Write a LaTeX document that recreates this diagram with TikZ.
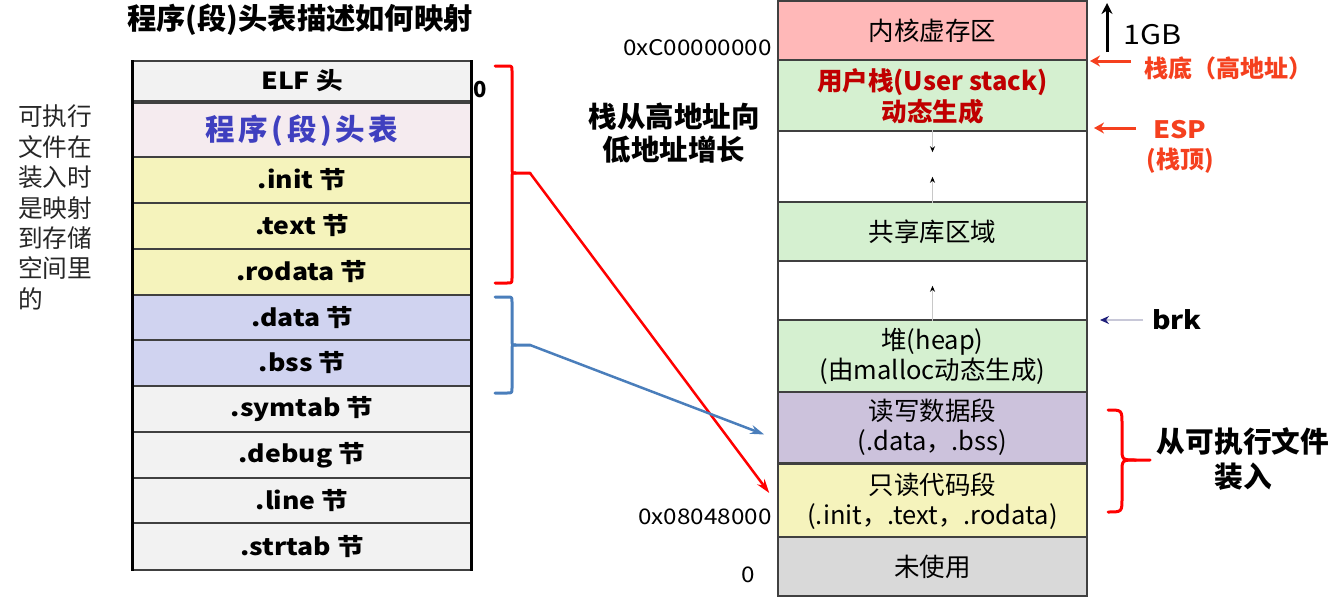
\documentclass[tikz,border=0pt]{standalone}
\usepackage{fontspec}
\setmainfont{Noto Sans CJK SC}
\newfontfamily\widefont{Noto Sans CJK SC}[FakeStretch=1.13]
\newfontfamily\spacedfont{Noto Sans CJK SC}[LetterSpace=12]
\usetikzlibrary{arrows.meta,calc}
\definecolor{elfgray}{HTML}{F2F2F2}
\definecolor{phtpink}{HTML}{F5EBEF}
\definecolor{secyellow}{HTML}{F5F3BC}
\definecolor{secblue}{HTML}{D0D3F0}
\definecolor{kernpink}{HTML}{FFB8B8}
\definecolor{memgreen}{HTML}{D5F0D0}
\definecolor{rwpurple}{HTML}{CCC2DC}
\definecolor{unusedgray}{HTML}{D9D9D9}
\definecolor{rowline}{HTML}{404040}
\definecolor{phtblue}{HTML}{3F3FBF}
\definecolor{stackred}{HTML}{C00000}
\definecolor{orangered}{HTML}{F5401E}
\definecolor{bracered}{HTML}{FF0000}
\definecolor{braceblue}{HTML}{4A7EBB}
\definecolor{smallline}{HTML}{C8C8C8}
\definecolor{brkline}{HTML}{C8C8D8}
\definecolor{brktip}{HTML}{1F1F7A}
\newcommand{\fsz}[1]{\fontsize{#1}{#1}\selectfont}
\begin{document}
\begin{tikzpicture}[x=1pt,y=-1pt,
  lcell/.style={draw=rowline, line width=1.2pt, minimum width=338pt, inner sep=0pt, font=\widefont\bfseries\fsz{23.5}},
  rcell/.style={draw=rowline, line width=1.5pt, minimum width=309pt, inner sep=0pt, align=center, font=\fontsize{25.5}{30}\selectfont},
  plain/.style={inner sep=0pt},
  smallarrow/.style={draw=smallline, line width=1pt, -{Stealth[length=6pt,width=5pt,color=black]}},
  orarrow/.style={draw=orangered, line width=3pt, -{Stealth[length=10pt,width=11pt]}},
  brace/.style={line width=3pt, line cap=round, line join=round},
  maparrow/.style={line width=2.5pt, -{Stealth[length=14pt,width=9pt]}}
]
\useasboundingbox (0,0) rectangle (1335,600);

% ---------------- left table ----------------
\node[plain, font=\bfseries\fsz{29.3}] (title) at (300,20) {程序(段)头表描述如何映射};

\node[lcell, fill=elfgray, minimum height=40pt] (elf) at (302,81) {ELF 头};
\node[lcell, fill=phtpink, minimum height=56pt, text=phtblue, font=\spacedfont\bfseries\fsz{29.5}] (pht) at (302,131) {程序(段)头表};
\node[lcell, fill=secyellow, minimum height=46pt] (init) at (302,180) {.init 节};
\node[lcell, fill=secyellow, minimum height=46pt] (text) at (302,226) {.text 节};
\node[lcell, fill=secyellow, minimum height=46pt] (rodata) at (302,272) {.rodata 节};
\node[lcell, fill=secblue, minimum height=45pt] (data) at (302,317.5) {.data 节};
\node[lcell, fill=secblue, minimum height=46pt] (bss) at (302,363) {.bss 节};
\node[lcell, fill=elfgray, minimum height=46pt] (symtab) at (302,409) {.symtab 节};
\node[lcell, fill=elfgray, minimum height=46pt] (debug) at (302,455) {.debug 节};
\node[lcell, fill=elfgray, minimum height=45pt] (line) at (302,500.5) {.line 节};
\node[lcell, fill=elfgray, minimum height=47pt] (strtab) at (302,546.5) {.strtab 节};
\draw[line width=3pt] (elf.north west) -- (strtab.south west);
\draw[line width=3pt] (elf.north east) -- (strtab.south east);

\node[plain, anchor=north west, align=left, font=\fontsize{24.7}{30.4}\selectfont, text=black!85] (desc) at (18,105)
  {可执行\\文件在\\装入时\\是映射\\到存储\\空间里\\的};
\node[plain, font=\bfseries\fsz{22}] (zeroL) at (480,90) {0};

% left braces
\draw[brace, draw=bracered] (495,66) -- (507,66) .. controls (512,66) .. (512,71) -- (512,168) .. controls (512,173) .. (516,173) -- (530,173);
\draw[brace, draw=bracered] (516,173) .. controls (512,173) .. (512,178) -- (512,278) .. controls (512,283) .. (507,283) -- (495,283);
\coordinate (redtip) at (530,173);
\draw[brace, draw=braceblue] (495,297) -- (507,297) .. controls (512,297) .. (512,302) -- (512,340) .. controls (512,345) .. (516,345) -- (530,345);
\draw[brace, draw=braceblue] (516,345) .. controls (512,345) .. (512,350) -- (512,388) .. controls (512,393) .. (507,393) -- (495,393);
\coordinate (bluetip) at (530,345);

% ---------------- right column ----------------
\node[rcell, fill=kernpink, minimum height=59pt] (kern) at (932.5,30.5) {内核虚存区};
\node[rcell, fill=memgreen, minimum height=71pt, text=stackred, font=\bfseries\fontsize{25.5}{31}\selectfont] (stack) at (932.5,96) {用户栈(User stack)\\动态生成};
\node[rcell, fill=white, minimum height=71pt] (gapA) at (932.5,166.5) {};
\node[rcell, fill=memgreen, minimum height=59pt] (shlib) at (932.5,231.5) {共享库区域};
\node[rcell, fill=white, minimum height=59pt] (gapB) at (932.5,290.5) {};
\node[rcell, fill=memgreen, minimum height=72pt] (heap) at (932.5,356) {堆(heap)\\(由malloc动态生成)};
\node[rcell, fill=rwpurple, minimum height=71pt] (rw) at (932.5,427.5) {读写数据段\\(.data，.bss)};
\node[rcell, fill=secyellow, minimum height=74pt] (ro) at (932.5,501) {只读代码段\\(.init，.text，.rodata)};
\node[rcell, fill=unusedgray, minimum height=59pt] (unused) at (932.5,566.5) {未使用};

% small growth arrows
\draw[smallarrow] (gapA.north) -- ++(0,22);
\draw[smallarrow] (gapA.south) -- ++(0,-26);
\draw[smallarrow] (gapB.south) -- ++(0,-35);

% address labels
\node[plain, anchor=east, font=\widefont\fsz{21.5}] (addrC) at (772,48) {0xC00000000};
\node[plain, anchor=east, font=\widefont\fsz{21.5}] (addr8) at (772,517) {0x08048000};
\node[plain, font=\widefont\fsz{21.5}] (zeroR) at (748,575) {0};
\node[plain, align=center, font=\bfseries\fontsize{28.5}{32.5}\selectfont] (grow) at (674,133) {栈从高地址向\\低地址增长};

% 1GB
\coordinate (gbbot) at (1107,52);
\coordinate (gbtop) at (1107,3);
\draw[line width=3pt, -{Stealth[length=11pt,width=11pt]}] (gbbot) -- (gbtop);
\node[plain, anchor=west, font=\widefont\fsz{27}] (gb) at (1123,35) {1GB};

% stack bottom / ESP
\node[plain, font=\bfseries\fsz{24}, text=orangered] (sbot) at (1228,68) {栈底（高地址）};
\coordinate (sbotA) at (1131,61);
\coordinate (sbotB) at (1090,61);
\draw[orarrow] (sbotA) -- (sbotB);
\node[plain, align=center, font=\bfseries\fontsize{24}{30}\selectfont, text=orangered] (esp) at (1180,147) {\widefont ESP\\(栈顶)};
\coordinate (espA) at (1136,128);
\coordinate (espB) at (1094,128);
\draw[orarrow] (espA) -- (espB);

% brk
\node[plain, anchor=west, font=\widefont\bfseries\fsz{25}] (brk) at (1152,320) {brk};
\draw[draw=brkline, line width=1.5pt, -{Stealth[length=9pt,width=8pt,color=brktip]}] (brk.west) ++(-9,0) -- (1100,320);

% right brace
\draw[brace, draw=bracered] (1108,410) .. controls (1122,410) .. (1122,424) -- (1122,448) .. controls (1122,460) .. (1136,460) -- (1150,460);
\draw[brace, draw=bracered] (1136,460) .. controls (1122,460) .. (1122,472) -- (1122,498) .. controls (1122,512) .. (1108,512);
\node[plain, align=center, font=\bfseries\fontsize{28.7}{35}\selectfont] (load) at (1243,459) {从可执行文件\\装入};

% mapping arrows
\draw[maparrow, draw=bracered] (redtip) -- ($(ro.west)+(-8,-8)$);
\draw[maparrow, draw=braceblue] (bluetip) -- ($(rw.west)+(-13,7)$);
\end{tikzpicture}
\end{document}
